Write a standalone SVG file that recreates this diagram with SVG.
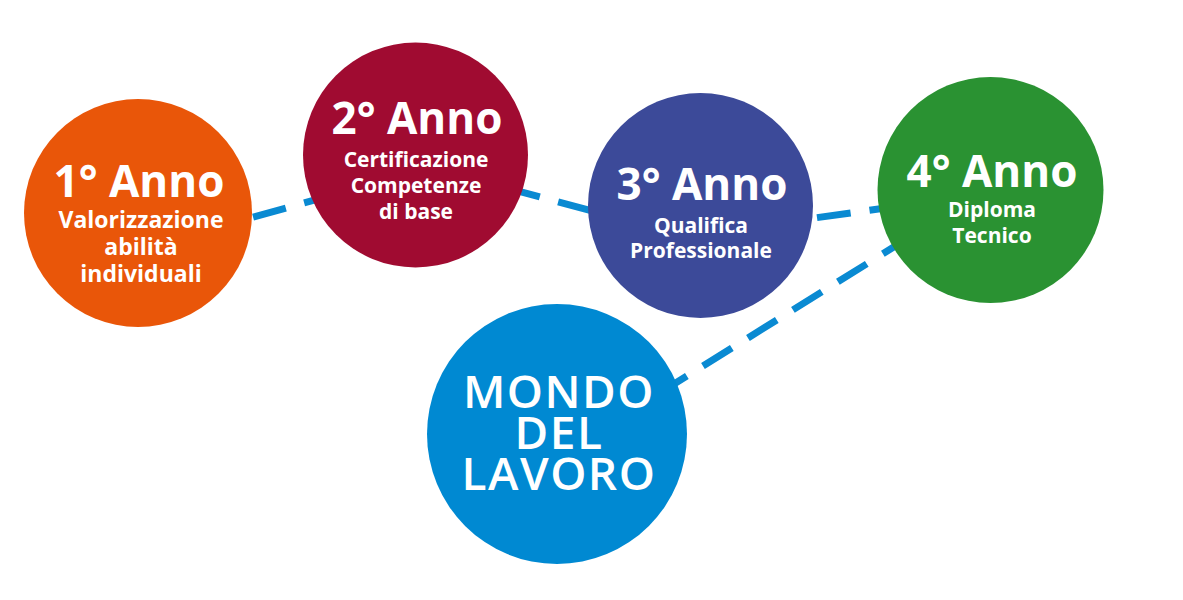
<svg xmlns="http://www.w3.org/2000/svg" width="1183" height="600" viewBox="0 0 1183 600">
<style>
.bg{fill:#ffffff}
.link{fill:none;stroke:#0A8AD2;stroke-width:7;stroke-dasharray:34 19}
text{fill:#ffffff;font-family:"Open Sans","Noto Sans","DejaVu Sans",sans-serif;text-anchor:middle}
.h{font-size:44px;font-weight:700}
.s{font-size:21px;font-weight:700}
.s1{font-size:23px;font-weight:700}
.m{font-size:46px;font-weight:600;letter-spacing:1.5px}
</style>
<rect class="bg" x="0" y="0" width="1183" height="600"/>
<g id="connectors">
<line class="link" x1="202" y1="231.3" x2="340" y2="193"/>
<line class="link" x1="455.8" y1="174.2" x2="640" y2="224"/>
<line class="link" x1="764.5" y1="225" x2="900" y2="206"/>
<line class="link" x1="658" y1="394" x2="990" y2="187"/>
</g>
<g id="anno1">
<circle cx="138" cy="213" r="114" fill="#E95609"/>
<text class="h" x="139" y="197">1° Anno</text>
<text class="s1" x="141" y="228">Valorizzazione</text>
<text class="s1" x="141" y="255">abilità</text>
<text class="s1" x="141" y="282">individuali</text>
</g>
<g id="anno2">
<circle cx="415.5" cy="155" r="112.5" fill="#A00B31"/>
<text class="h" x="417" y="134">2° Anno</text>
<text class="s" x="416" y="167">Certificazione</text>
<text class="s" x="416" y="193">Competenze</text>
<text class="s" x="416" y="219">di base</text>
</g>
<g id="anno3">
<circle cx="700.5" cy="205.5" r="112.5" fill="#3C4A99"/>
<text class="h" x="702" y="200">3° Anno</text>
<text class="s" x="701" y="233">Qualifica</text>
<text class="s" x="701" y="258">Professionale</text>
</g>
<g id="anno4">
<circle cx="990.5" cy="190" r="113" fill="#2A9232"/>
<text class="h" x="992" y="187">4° Anno</text>
<text class="s" x="992" y="217">Diploma</text>
<text class="s" x="992" y="243">Tecnico</text>
</g>
<g id="mondo">
<circle cx="557" cy="434" r="130" fill="#0089D2"/>
<text class="m" x="559" y="408">MONDO</text>
<text class="m" x="559" y="449">DEL</text>
<text class="m" x="559" y="490">LAVORO</text>
</g>
</svg>
